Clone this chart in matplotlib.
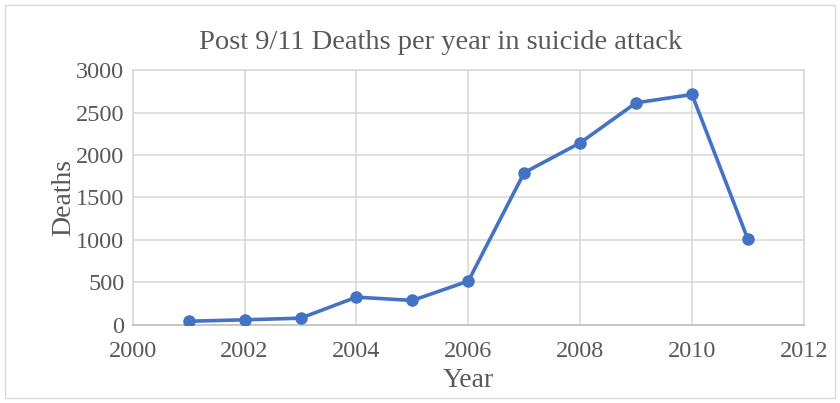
import matplotlib.pyplot as plt
from matplotlib.patches import Rectangle

# values
years = [2001, 2002, 2003, 2004, 2005, 2006, 2007, 2008, 2009, 2010, 2011]
deaths = [42, 59, 78, 326, 287, 515, 1793, 2143, 2615, 2713, 1006]

x_ticks = [2000, 2002, 2004, 2006, 2008, 2010, 2012]
y_ticks = [0, 500, 1000, 1500, 2000, 2500, 3000]

blue = '#4472C4'
grid = '#D9D9D9'
text = '#595959'

plt.rcParams['font.family'] = ['Liberation Serif', 'DejaVu Serif']

fig = plt.figure(figsize=(8.4, 4.03), dpi=100)
ax = fig.add_axes([0.158, 0.194, 0.799, 0.632])

ax.plot(years, deaths, color=blue, linewidth=2.6, marker='o', markersize=8,
        solid_capstyle='round', zorder=3)

ax.set_xlim(2000, 2012)
ax.set_ylim(0, 3000)
ax.set_xticks(x_ticks)
ax.set_yticks(y_ticks)
ax.grid(True, color=grid, linewidth=1.2)
ax.set_axisbelow(True)
ax.tick_params(length=0, labelsize=17.5, labelcolor=text)
ax.tick_params(axis='x', pad=12)
ax.tick_params(axis='y', pad=6)

for name, sp in ax.spines.items():
    sp.set_color(grid)
    sp.set_linewidth(1.2)
ax.spines['bottom'].set_color('#BFBFBF')

# title is centred on the whole chart, not the plot area
fig.text(0.524, 0.895, 'Post 9/11 Deaths per year in suicide attack', fontsize=20.5,
         color=text, ha='center', va='center')
ax.set_xlabel('Year', fontsize=20, color=text, labelpad=4)
ax.set_ylabel('Deaths', fontsize=20, color=text, labelpad=0)

fig.patches.append(Rectangle((0.006, 0.012), 0.988, 0.976, transform=fig.transFigure,
                             fill=False, edgecolor=grid, linewidth=1))

fig.savefig('out.png', dpi=100)
